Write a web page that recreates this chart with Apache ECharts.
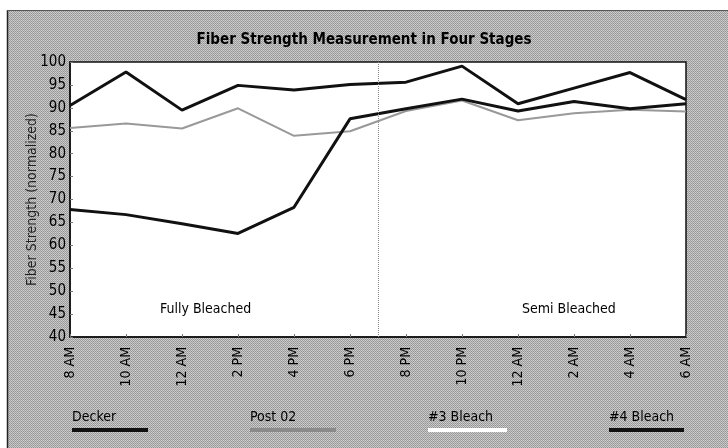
<!DOCTYPE html>
<html><head><meta charset="utf-8">
<script src="https://cdn.jsdelivr.net/npm/echarts@6/dist/echarts.min.js"></script>
<style>html,body{margin:0;padding:0;background:#fff}#c{width:728px;height:448px}</style>
</head><body><div id="c"></div>
<script>
const categories = ['8 AM','10 AM','12 AM','2 PM','4 PM','6 PM','8 PM','10 PM','12 AM','2 AM','4 AM','6 AM'];
const decker   = [90.5, 97.8, 89.5, 94.9, 93.9, 95.1, 95.6, 99.1, 90.9, 94.3, 97.7, 91.8];
const post02   = [85.6, 86.6, 85.5, 89.9, 83.9, 84.9, 89.3, 91.6, 87.3, 88.8, 89.6, 89.2];
const bleach3  = [];
const bleach4  = [67.8, 66.7, 64.7, 62.6, 68.3, 87.6, 89.8, 91.9, 89.3, 91.4, 89.8, 90.9];
const legendNames = ['Decker','Post 02','#3 Bleach','#4 Bleach'];
const yTicks = {min: 40, max: 100, interval: 5};

const FONT = "'DejaVu Sans Condensed','Liberation Sans Narrow',sans-serif";

// dithered gray background pattern
const pc = document.createElement('canvas');
pc.width = 4; pc.height = 4;
const pctx = pc.getContext('2d');
for (let y = 0; y < 4; y++) for (let x = 0; x < 4; x++) {
  const dark = (x + y) % 2 === 0;
  pctx.fillStyle = dark ? (y % 2 === 1 ? '#939393' : '#a0a0a0') : (y % 2 === 1 ? '#c4c4c4' : '#d0d0d0');
  pctx.fillRect(x, y, 1, 1);
}

const chart = echarts.init(document.getElementById('c'), null, {renderer: 'canvas'});
const lineColors = ['#111111', '#999999', '#ffffff', '#111111'];
const seriesData = [decker, post02, bleach3, bleach4];

const option = {
  animation: false,
  backgroundColor: '#ffffff',
  title: {
    text: 'Fiber Strength Measurement in Four Stages',
    left: 'center', top: 28,
    textStyle: {fontFamily: FONT, fontWeight: 'bold', fontSize: 15, color: '#000'}
  },
  grid: {
    left: 70, right: 42, top: 62, bottom: 111,
    show: true, backgroundColor: '#ffffff', borderColor: '#111', borderWidth: 1.5
  },
  xAxis: {
    type: 'category', data: categories, boundaryGap: false,
    axisLine: {show: true, lineStyle: {color: '#111', width: 1.5}},
    axisTick: {show: true, inside: true, length: 3, lineStyle: {color: '#777'}},
    axisLabel: {rotate: 90, margin: 10, fontFamily: FONT, fontSize: 14, color: '#000'},
    splitLine: {show: false}
  },
  yAxis: {
    type: 'value', min: yTicks.min, max: yTicks.max, interval: yTicks.interval,
    name: 'Fiber Strength (normalized)', nameLocation: 'middle', nameGap: 31,
    nameMoveOverlap: false,
    nameTextStyle: {fontFamily: FONT, fontSize: 14, color: '#222'},
    axisLine: {show: true, lineStyle: {color: '#111', width: 1.5}},
    axisTick: {show: true, inside: true, length: 3, lineStyle: {color: '#777'}},
    axisLabel: {fontFamily: FONT, fontSize: 15, color: '#000', margin: 4},
    splitLine: {show: false}
  },
  series: seriesData.map((d, i) => ({
    name: legendNames[i], type: 'line', data: d, symbol: 'none',
    lineStyle: {color: lineColors[i], width: i === 1 ? 2 : 3},
    z: i === 1 ? 2 : 3
  }))
};
chart.setOption(option);

// derived positions
const p5 = chart.convertToPixel({xAxisIndex: 0}, 5);
const p6 = chart.convertToPixel({xAxisIndex: 0}, 6);
const divX = Math.round((p5 + p6) / 2) + 0.5;
const yTop = chart.convertToPixel({yAxisIndex: 0}, yTicks.max);
const yBot = chart.convertToPixel({yAxisIndex: 0}, yTicks.min);

const legendX = [72, 250, 428, 609];
const legendLen = [76, 86, 79, 75];
const legendFill = ['#111', '#8a8a8a', '#ffffff', '#111'];
const graphics = [
  {type: 'rect', z: -10, silent: true, shape: {x: 7, y: 10, width: 721, height: 438},
   style: {fill: {image: pc, repeat: 'repeat'}}},
  {type: 'line', z: -9, shape: {x1: 7.5, y1: 10, x2: 7.5, y2: 448}, style: {stroke: '#222', lineWidth: 1.5}},
  {type: 'line', z: -9, shape: {x1: 7, y1: 10.5, x2: 728, y2: 10.5}, style: {stroke: '#555', lineWidth: 1}},
  {type: 'line', z: 5, shape: {x1: divX, y1: yTop, x2: divX, y2: yBot},
   style: {stroke: '#888', lineWidth: 1, lineDash: [1, 1]}},
  {type: 'text', z: 10, left: 160, top: 302, style: {text: 'Fully Bleached', font: '14px ' + FONT, fill: '#000'}},
  {type: 'text', z: 10, left: 522, top: 302, style: {text: 'Semi Bleached', font: '14px ' + FONT, fill: '#000'}}
];
legendNames.forEach((n, i) => {
  graphics.push({type: 'text', z: 10, left: legendX[i], top: 410,
    style: {text: n, font: '14px ' + FONT, fill: '#000'}});
  graphics.push({type: 'rect', z: 10, shape: {x: legendX[i], y: 428, width: legendLen[i], height: 4},
    style: {fill: legendFill[i]}});
});
chart.setOption({graphic: graphics});
</script></body></html>
